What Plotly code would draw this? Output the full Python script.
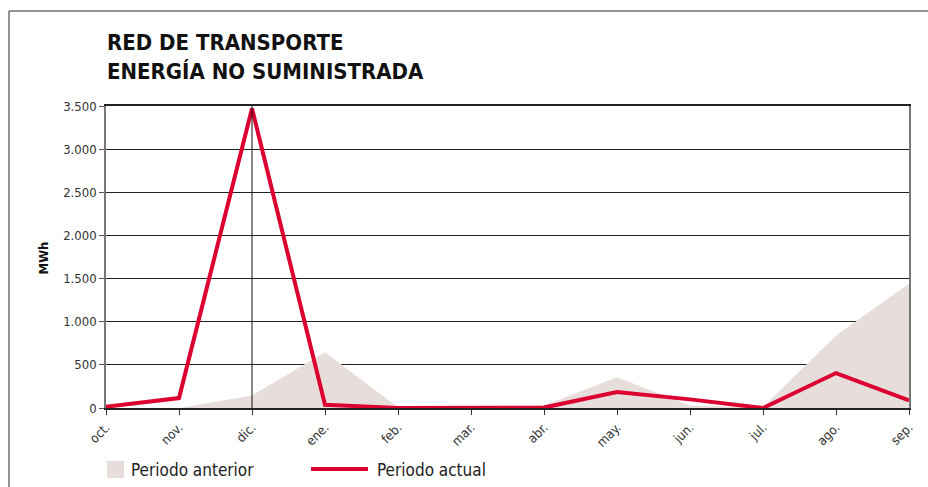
import plotly.graph_objects as go

months = ["oct.", "nov.", "dic.", "ene.", "feb.", "mar.", "abr.", "may.", "jun.", "jul.", "ago.", "sep."]
periodo_anterior = [0, 0, 145, 645, 5, 0, 30, 355, 30, 10, 840, 1440]
periodo_actual = [15, 115, 3470, 38, 0, 0, 5, 186, 100, 0, 405, 88]
y_ticks = [0, 500, 1000, 1500, 2000, 2500, 3000, 3500]

FONT = "Liberation Sans Narrow, DejaVu Sans Condensed, Arial Narrow, sans-serif"
RED = "#dc0030"
FILL = "#e7dedc"

W, H = 928, 487
L, R, T, B = 106, 19, 106, 79
pw, ph = W - L - R, H - T - B


def px(x):
    return (x - L) / pw


def py(y):
    return (H - B - y) / ph


xs = list(range(len(months)))

fig = go.Figure()
fig.add_trace(go.Scatter(
    x=xs, y=periodo_anterior, mode="lines", fill="tozeroy",
    line=dict(width=0, color=FILL), fillcolor=FILL,
    name="Periodo anterior", hoverinfo="y",
))
fig.add_trace(go.Scatter(
    x=xs, y=periodo_actual, mode="lines",
    line=dict(width=4, color=RED),
    name="Periodo actual", hoverinfo="y",
))

shapes = [
    # vertical marker line at dic.
    dict(type="line", xref="x", yref="y", x0=2, x1=2, y0=0, y1=3500,
         line=dict(color="#111", width=1), layer="above"),
    # outer frame
    dict(type="line", xref="paper", yref="paper", x0=px(9), x1=px(9), y0=py(H + 5), y1=py(11),
         line=dict(color="#6e6e6e", width=1.5)),
    dict(type="line", xref="paper", yref="paper", x0=px(9), x1=px(W + 5), y0=py(11), y1=py(11),
         line=dict(color="#6e6e6e", width=1.5)),
    # legend swatches
    dict(type="rect", xref="paper", yref="paper", x0=px(107), x1=px(124), y0=py(478), y1=py(461),
         fillcolor=FILL, line=dict(width=0)),
    dict(type="line", xref="paper", yref="paper", x0=px(311), x1=px(368), y0=py(469), y1=py(469),
         line=dict(color=RED, width=4)),
]

annotations = [
    dict(text="<b>RED DE TRANSPORTE<br>ENERGÍA NO SUMINISTRADA</b>", xref="paper", yref="paper",
         x=px(105), y=py(28), xanchor="left", yanchor="top", align="left", showarrow=False,
         font=dict(family=FONT, size=22, color="#111")),
    dict(text="<b>MWh</b>", xref="paper", yref="paper", x=px(33), y=py(258), textangle=-90,
         showarrow=False, font=dict(family=FONT, size=13, color="#111")),
    dict(text="Periodo anterior", xref="paper", yref="paper", x=px(129), y=py(470),
         xanchor="left", yanchor="middle", showarrow=False,
         font=dict(family=FONT, size=17, color="#222")),
    dict(text="Periodo actual", xref="paper", yref="paper", x=px(375), y=py(470),
         xanchor="left", yanchor="middle", showarrow=False,
         font=dict(family=FONT, size=17, color="#222")),
]

fig.update_layout(
    width=W, height=H,
    margin=dict(l=L, r=R, t=T, b=B),
    paper_bgcolor="white", plot_bgcolor="white",
    showlegend=False,
    separators=",.",
    font=dict(family=FONT, size=13, color="#333"),
    shapes=shapes,
    annotations=annotations,
    xaxis=dict(
        range=[0, 11], tickmode="array", tickvals=xs, ticktext=months,
        tickangle=-45, ticks="outside", ticklen=5, tickcolor="#333",
        showgrid=False, zeroline=False,
        showline=True, linecolor="#222", linewidth=1.5, mirror=True,
        tickfont=dict(family=FONT, size=13, color="#333"),
    ),
    yaxis=dict(
        range=[0, 3500], tickmode="array", tickvals=y_ticks, tickformat=",d",
        ticks="outside", ticklen=5, tickcolor="#555",
        showgrid=True, gridcolor="#222", gridwidth=1, zeroline=False,
        showline=True, linecolor="#777", linewidth=1.5, mirror=True,
        tickfont=dict(family=FONT, size=13, color="#333"),
    ),
)

fig.write_html("out.html")
